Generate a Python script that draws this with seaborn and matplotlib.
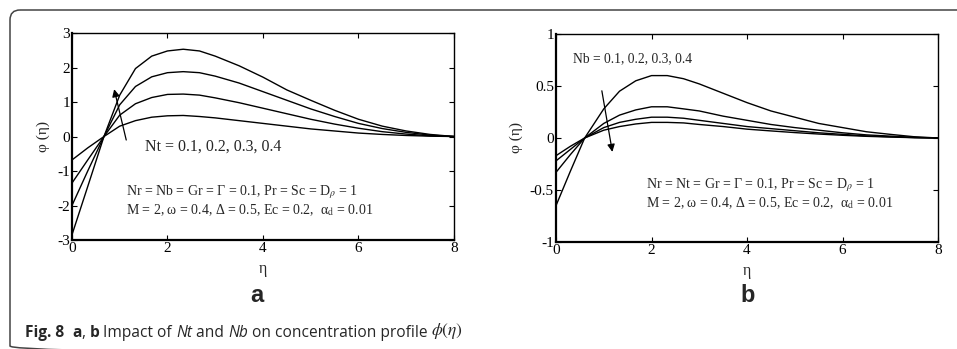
import numpy as np
import pandas as pd
import seaborn as sns
from matplotlib import pyplot as plt
from matplotlib.patches import FancyBboxPatch

# ---- data ----
eta_a = [0, 0.33, 0.67, 1.0, 1.33, 1.67, 2.0, 2.33, 2.67, 3.0, 3.5, 4.0, 4.5, 5.0, 5.5, 6.0, 6.5, 7.0, 7.5, 8.0]
nt_values = [0.1, 0.2, 0.3, 0.4]
phi_nt01 = [-0.68, -0.33, 0, 0.30, 0.46, 0.56, 0.60, 0.61, 0.58, 0.54, 0.46, 0.38, 0.30, 0.22, 0.16, 0.10, 0.06, 0.03, 0.01, 0]
phi_nt02 = [-1.35, -0.68, 0, 0.62, 0.95, 1.13, 1.22, 1.23, 1.20, 1.12, 0.98, 0.82, 0.66, 0.50, 0.36, 0.24, 0.14, 0.07, 0.02, 0]
phi_nt03 = [-2.00, -1.00, 0, 0.92, 1.45, 1.73, 1.85, 1.88, 1.85, 1.75, 1.55, 1.30, 1.05, 0.80, 0.58, 0.38, 0.23, 0.12, 0.04, 0]
phi_nt04 = [-2.85, -1.45, 0, 1.20, 1.97, 2.33, 2.48, 2.53, 2.48, 2.33, 2.05, 1.72, 1.35, 1.05, 0.76, 0.50, 0.30, 0.16, 0.06, 0]

eta_b = [0, 0.3, 0.6, 1.0, 1.33, 1.67, 2.0, 2.33, 2.67, 3.0, 3.5, 4.0, 4.5, 5.0, 5.5, 6.0, 6.5, 7.0, 7.5, 8.0]
nb_values = [0.1, 0.2, 0.3, 0.4]
phi_nb01 = [-0.65, -0.32, 0, 0.28, 0.45, 0.55, 0.60, 0.60, 0.57, 0.52, 0.43, 0.34, 0.26, 0.20, 0.14, 0.10, 0.06, 0.035, 0.012, 0]
phi_nb02 = [-0.33, -0.16, 0, 0.14, 0.22, 0.27, 0.30, 0.30, 0.28, 0.26, 0.21, 0.17, 0.13, 0.10, 0.075, 0.05, 0.03, 0.018, 0.006, 0]
phi_nb03 = [-0.22, -0.11, 0, 0.10, 0.15, 0.18, 0.20, 0.20, 0.19, 0.17, 0.14, 0.11, 0.09, 0.07, 0.05, 0.035, 0.02, 0.012, 0.004, 0]
phi_nb04 = [-0.17, -0.08, 0, 0.075, 0.11, 0.135, 0.15, 0.15, 0.145, 0.13, 0.11, 0.085, 0.068, 0.052, 0.038, 0.026, 0.016, 0.009, 0.003, 0]

x_ticks = [0, 2, 4, 6, 8]
y_ticks_a = [-3, -2, -1, 0, 1, 2, 3]
y_ticks_b = [-1, -0.5, 0, 0.5, 1]
y_ticklabels_b = ['-1', '-0.5', '0', '0.5', '1']


def long_frame(eta, values, curves, name):
    rows = []
    for v, phi in zip(values, curves):
        for e, p in zip(eta, phi):
            rows.append({'eta': e, 'phi': p, name: v})
    return pd.DataFrame(rows)


df_a = long_frame(eta_a, nt_values, [phi_nt01, phi_nt02, phi_nt03, phi_nt04], 'Nt')
df_b = long_frame(eta_b, nb_values, [phi_nb01, phi_nb02, phi_nb03, phi_nb04], 'Nb')

sns.set_style('ticks')
plt.rcParams['font.family'] = ['Liberation Serif', 'DejaVu Serif']
plt.rcParams['mathtext.fontset'] = 'stix'
plt.rcParams['axes.unicode_minus'] = False

fig = plt.figure(figsize=(9.57, 3.49), dpi=100)
ax_a = fig.add_axes([0.0752, 0.3123, 0.3992, 0.5931])
ax_b = fig.add_axes([0.5810, 0.3066, 0.3992, 0.5960])

black4 = ['black'] * 4
sns.lineplot(data=df_a, x='eta', y='phi', hue='Nt', palette=black4, legend=False,
             linewidth=1.0, ax=ax_a)
sns.lineplot(data=df_b, x='eta', y='phi', hue='Nb', palette=black4, legend=False,
             linewidth=1.0, ax=ax_b)

for ax, yt in [(ax_a, y_ticks_a), (ax_b, y_ticks_b)]:
    ax.set_xlim(0, 8)
    ax.set_xticks(x_ticks)
    ax.set_xticklabels([str(t) for t in x_ticks])
    ax.set_yticks(yt)
    ax.set_ylim(yt[0], yt[-1])
    ax.tick_params(direction='in', top=True, right=True, length=3.5, width=0.8,
                   labelsize=11, pad=1.5, colors='black')
    for s in ax.spines.values():
        s.set_linewidth(1.0)
        s.set_color('black')
    ax.spines['left'].set_linewidth(1.6)
    ax.spines['bottom'].set_linewidth(1.6)
    ax.set_xlabel('η', fontsize=11.5, labelpad=4)
    ax.set_ylabel('φ (η)', fontsize=11, labelpad=5)

ax_a.set_yticklabels([str(t) for t in y_ticks_a])
ax_b.set_yticklabels(y_ticklabels_b)

# panel a annotations
ax_a.text(1.53, -0.28, 'Nt = 0.1, 0.2, 0.3, 0.4', fontsize=11.5, va='center')
ax_a.text(1.13, -1.6, r'Nr = Nb = Gr = Γ = 0.1, Pr = Sc = D$_\rho$ = 1', fontsize=10, va='center')
ax_a.text(1.13, -2.15, r'M = 2, ω = 0.4, Δ = 0.5, Ec = 0.2,  α$_\mathrm{d}$ = 0.01', fontsize=10, va='center')
ax_a.annotate('', xy=(0.87, 1.45), xytext=(1.15, -0.18),
              arrowprops=dict(arrowstyle='-|>', color='black', lw=0.9, mutation_scale=11))

# panel b annotations
ax_b.text(0.36, 0.76, 'Nb = 0.1, 0.2, 0.3, 0.4', fontsize=9.8, va='center')
ax_b.text(1.89, -0.45, r'Nr = Nt = Gr = Γ = 0.1, Pr = Sc = D$_\rho$ = 1', fontsize=10, va='center')
ax_b.text(1.89, -0.63, r'M = 2, ω = 0.4, Δ = 0.5, Ec = 0.2,  α$_\mathrm{d}$ = 0.01', fontsize=10, va='center')
ax_b.annotate('', xy=(1.19, -0.16), xytext=(0.95, 0.48),
              arrowprops=dict(arrowstyle='-|>', color='black', lw=0.9, mutation_scale=11))

# panel letters
fig.text(257 / 957, 1 - 296 / 349, 'a', fontsize=17, fontweight='bold',
         family=['Liberation Sans', 'DejaVu Sans'], ha='center', va='center')
fig.text(748 / 957, 1 - 295 / 349, 'b', fontsize=17, fontweight='bold',
         family=['Liberation Sans', 'DejaVu Sans'], ha='center', va='center')

# caption built from pieces
cap = fig.add_axes([0, 0, 1, 1])
cap.set_axis_off()
cap.set_xlim(0, 957)
cap.set_ylim(349, 0)
sans = ['Open Sans', 'DejaVu Sans']
pieces = [
    ('Fig. 8  ', 'bold', 'normal'),
    ('a', 'bold', 'normal'),
    (', ', 'normal', 'normal'),
    ('b', 'bold', 'normal'),
    (' Impact of ', 'normal', 'normal'),
    ('Nt', 'normal', 'italic'),
    (' and ', 'normal', 'normal'),
    ('Nb', 'normal', 'italic'),
    (' on concentration profile ', 'normal', 'normal'),
]
prev = None
for txt, weight, style in pieces:
    if prev is None:
        prev = cap.text(25, 337, txt, fontsize=11.2, family=sans, fontweight=weight,
                        fontstyle=style, va='baseline')
    else:
        prev = cap.annotate(txt, xy=(1, 0), xycoords=prev, va='bottom', fontsize=11.2,
                            family=sans, fontweight=weight, fontstyle=style)
cap.annotate(r'$\phi(\eta)$', xy=(1, 0), xycoords=prev, va='bottom', fontsize=12.5)

# rounded frame around the figure (right and bottom sides fall outside the image)
frame = FancyBboxPatch((10, 10), 1100, 346, boxstyle='round,pad=0,rounding_size=10',
                       fill=False, edgecolor='#444444', linewidth=1.1,
                       transform=cap.transData, clip_on=False)
cap.add_patch(frame)

fig.savefig('out.png', dpi=100)
